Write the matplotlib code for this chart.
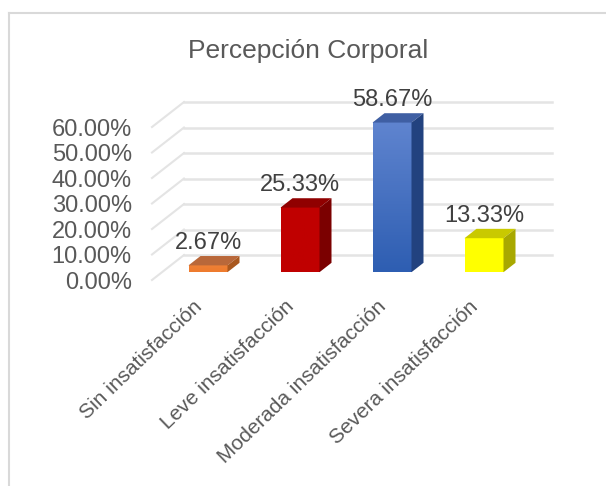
import numpy as np
import matplotlib
matplotlib.use("Agg")
import matplotlib.pyplot as plt
from matplotlib.colors import LinearSegmentedColormap
from matplotlib.lines import Line2D
from matplotlib.patches import Polygon
from matplotlib.transforms import ScaledTranslation

categories = ["Sin insatisfacción", "Leve insatisfacción", "Moderada insatisfacción", "Severa insatisfacción"]
values = [2.67, 25.33, 58.67, 13.33]
y_ticks = [0, 10, 20, 30, 40, 50, 60]

front_top = ["#ef8136", "#c00000", "#5f84cf", "#ffff00"]
front_bottom = ["#ee7b2e", "#c00000", "#2e5eb2", "#ffff00"]
top_color = ["#b9683a", "#900000", "#3f5fa3", "#c9c900"]
side_color = ["#a9581f", "#7b0000", "#22427f", "#a8a800"]

# floor depth in data units (category widths, percent)
DEPTH_X = 32 / 92
DEPTH_Y = 9.8
BAR_WIDTH = 39 / 92
FRONT = 0.3125  # where the bar front sits on the floor
BAR_DEPTH = 0.375

W, H = 606, 486
plt.rcParams['font.family'] = ['Liberation Sans', 'DejaVu Sans']
fig = plt.figure(figsize=(W / 100, H / 100), dpi=100)
fig.patch.set_facecolor('white')

# outer frame, cut by the image on the right and bottom
frame = dict(color='#d9d9d9', lw=1.5, transform=fig.transFigure)
fig.add_artist(Line2D([9 / W, 9 / W], [0, 1 - 13 / H], **frame))
fig.add_artist(Line2D([9 / W, 1], [1 - 13 / H, 1 - 13 / H], **frame))

ax = fig.add_axes([152 / W, 1 - 280 / H, 368 / W, 153 / H])
ax.set_xlim(-0.5, 3.5)
ax.set_ylim(0, 60)
ax.patch.set_visible(False)
for s in ax.spines.values():
    s.set_visible(False)

for t in y_ticks:
    ax.plot([-0.5, -0.5 + DEPTH_X], [t, t + DEPTH_Y], color='#e4e4e4', lw=1.5, clip_on=False, zorder=1)
    ax.plot([-0.5 + DEPTH_X, 3.5 + DEPTH_X], [t + DEPTH_Y, t + DEPTH_Y], color='#e4e4e4', lw=1.8, clip_on=False, zorder=1)

for i, val in enumerate(values):
    x0 = i - BAR_WIDTH / 2 + FRONT * DEPTH_X
    x1 = x0 + BAR_WIDTH
    y0 = FRONT * DEPTH_Y
    y1 = y0 + val
    dx = BAR_DEPTH * DEPTH_X
    dy = BAR_DEPTH * DEPTH_Y

    cmap = LinearSegmentedColormap.from_list('f', [front_top[i], front_bottom[i]])
    ax.imshow(np.linspace(0, 1, 64)[:, None], cmap=cmap, extent=(x0, x1, y0, y1), origin='upper',
              aspect='auto', clip_on=False, zorder=3)
    ax.add_patch(Polygon([(x0, y1), (x1, y1), (x1 + dx, y1 + dy), (x0 + dx, y1 + dy)],
                         facecolor=top_color[i], edgecolor='none', clip_on=False, zorder=3))
    ax.add_patch(Polygon([(x1, y0), (x1 + dx, y0 + dy), (x1 + dx, y1 + dy), (x1, y1)],
                         facecolor=side_color[i], edgecolor='none', clip_on=False, zorder=3))
    ax.annotate(f"{val:.2f}%", ((x0 + x1) / 2, y1), xytext=(0, 16), textcoords='offset points',
                ha='center', va='center', fontsize=17, color='#404040', zorder=5, annotation_clip=False)

ax.set_xlim(-0.5, 3.5)
ax.set_ylim(0, 60)
ax.set_yticks(y_ticks)
ax.set_yticklabels([f"{t:.2f}%" for t in y_ticks], fontsize=17, color='#595959')
ax.set_xticks(range(len(categories)))
ax.set_xticklabels(categories, rotation=44, ha='right', rotation_mode='anchor', fontsize=15, color='#595959')
ax.tick_params(axis='y', length=0, pad=14.5)
ax.tick_params(axis='x', length=0, pad=12)
# labels sit a little left of the tick position
shift = ScaledTranslation(-5 / 100, 0, fig.dpi_scale_trans)
for lab in ax.get_xticklabels():
    lab.set_transform(lab.get_transform() + shift)

fig.text(308 / W, 1 - 51 / H, "Percepción Corporal", ha='center', va='center', fontsize=19, color='#595959')

fig.savefig("out.png", dpi=100)
